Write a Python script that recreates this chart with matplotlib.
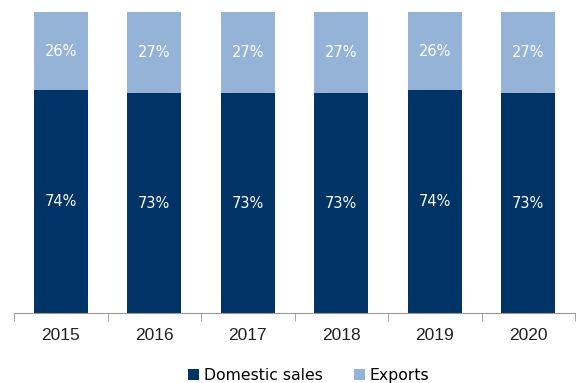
import numpy as np
import matplotlib.pyplot as plt

years = ['2015', '2016', '2017', '2018', '2019', '2020']
domestic = [74, 73, 73, 73, 74, 73]
exports = [26, 27, 27, 27, 26, 27]

dark = '#003366'
light = '#95b3d7'

fig = plt.figure(figsize=(5.82, 3.83), dpi=100)
ax = fig.add_axes([14 / 582, 70 / 383, 561 / 582, 301 / 383])

x = np.arange(len(years))
w = 0.58
b1 = ax.bar(x, domestic, w, color=dark, label='Domestic sales')
b2 = ax.bar(x, exports, w, bottom=domestic, color=light, label='Exports')

# percentage labels in the middle of each segment
for i in range(len(years)):
    ax.text(x[i], domestic[i] / 2, f'{domestic[i]}%', ha='center', va='center',
            color='white', fontsize=10.5)
    ax.text(x[i], domestic[i] + exports[i] / 2, f'{exports[i]}%', ha='center',
            va='center', color='white', fontsize=10.5)

ax.set_xlim(-0.5, len(years) - 0.5)
ax.set_ylim(0, 100)
ax.set_yticks([])
for s in ['top', 'left', 'right']:
    ax.spines[s].set_visible(False)
ax.spines['bottom'].set_color('#9a9a9a')

ax.set_xticks(x)
ax.set_xticklabels(years, fontsize=12.5, family='Liberation Sans', color='#222222')
ax.tick_params(axis='x', length=0, pad=11)
ax.set_xticks(np.arange(-0.5, len(years)), minor=True)
ax.tick_params(axis='x', which='minor', length=6, color='#9a9a9a')

ax.legend(loc='upper center', bbox_to_anchor=(0.525, -0.135), ncol=2, frameon=False,
          fontsize=11.3, handlelength=0.7, handleheight=0.7, handletextpad=0.3,
          columnspacing=2.0)

fig.savefig('out.png', dpi=100)
